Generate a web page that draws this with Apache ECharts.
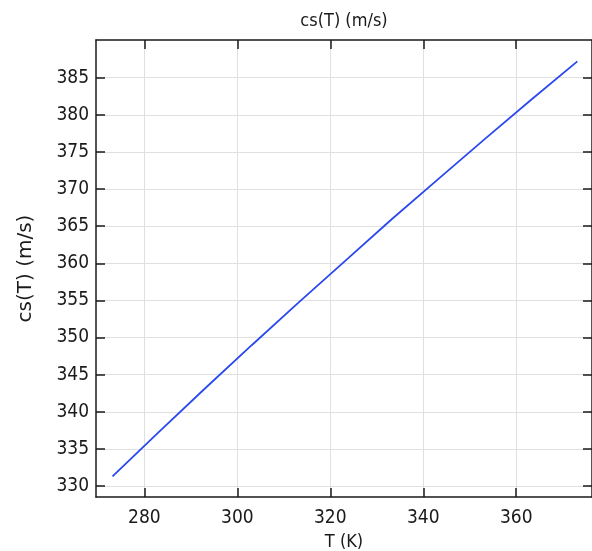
<!DOCTYPE html>
<html><head><meta charset="utf-8">
<script src="https://cdn.jsdelivr.net/npm/echarts@6/dist/echarts.min.js"></script>
<style>html,body{margin:0;padding:0;background:#fff}#c{width:592px;height:551px}</style>
</head><body><div id="c"></div>
<script>
var temperatures = [273.15, 283.15, 293.15, 303.15, 313.15, 323.15, 333.15, 343.15, 353.15, 363.15, 373.15];
var soundSpeed = [331.3, 337.3, 343.2, 349.0, 354.7, 360.3, 365.9, 371.3, 376.7, 382.0, 387.2];
var xTicks = [280, 300, 320, 340, 360];
var yTicks = [330, 335, 340, 345, 350, 355, 360, 365, 370, 375, 380, 385];
var titleText = 'cs(T) (m/s)';
var xName = 'T (K)';
var yName = 'cs(T) (m/s)';

var FONT = "'DejaVu Sans Condensed', 'DejaVu Sans', sans-serif";
var chart = echarts.init(document.getElementById('c'), null, {renderer: 'canvas'});
var xMin = 269.6, xMax = 376.3, yMin = 328.52, yMax = 390.08;
function axisCommon(showLabel, ticks, margin) {
  return {
    axisLine: {show: true, lineStyle: {color: '#1a1a1a', width: 1.5}},
    axisTick: {show: true, inside: true, length: 9, customValues: ticks, lineStyle: {color: '#1a1a1a', width: 1.5}},
    axisLabel: {show: showLabel, customValues: ticks, color: '#1a1a1a', fontFamily: FONT, fontSize: 19, margin: margin},
    splitLine: {show: showLabel, lineStyle: {color: '#e0e0e0', width: 1}}
  };
}
var data = temperatures.map(function (t, i) { return [t, soundSpeed[i]]; });
chart.setOption({
  animation: false,
  grid: {left: 96, right: 0, top: 40, bottom: 54, containLabel: false, outerBoundsMode: 'none'},
  xAxis: [
    Object.assign({type: 'value', position: 'bottom', min: xMin, max: xMax,
      name: xName, nameLocation: 'middle', nameGap: 30,
      nameTextStyle: {color: '#1a1a1a', fontFamily: FONT, fontSize: 18}}, axisCommon(true, xTicks, 12)),
    Object.assign({type: 'value', position: 'top', min: xMin, max: xMax,
      name: titleText, nameLocation: 'middle', nameGap: 10,
      nameTextStyle: {color: '#1a1a1a', fontFamily: FONT, fontSize: 18}}, axisCommon(false, xTicks, 8))
  ],
  yAxis: [
    Object.assign({type: 'value', position: 'left', min: yMin, max: yMax,
      name: yName, nameLocation: 'middle', nameGap: 60, nameRotate: 90,
      nameTextStyle: {color: '#1a1a1a', fontFamily: "'DejaVu Sans', sans-serif", fontSize: 20}}, axisCommon(true, yTicks, 7)),
    Object.assign({type: 'value', position: 'right', min: yMin, max: yMax}, axisCommon(false, yTicks, 8))
  ],
  series: [{
    type: 'line', xAxisIndex: 0, yAxisIndex: 0, data: data, showSymbol: false, smooth: false,
    lineStyle: {color: '#2a48ee', width: 1.8}
  }]
});
</script></body></html>
